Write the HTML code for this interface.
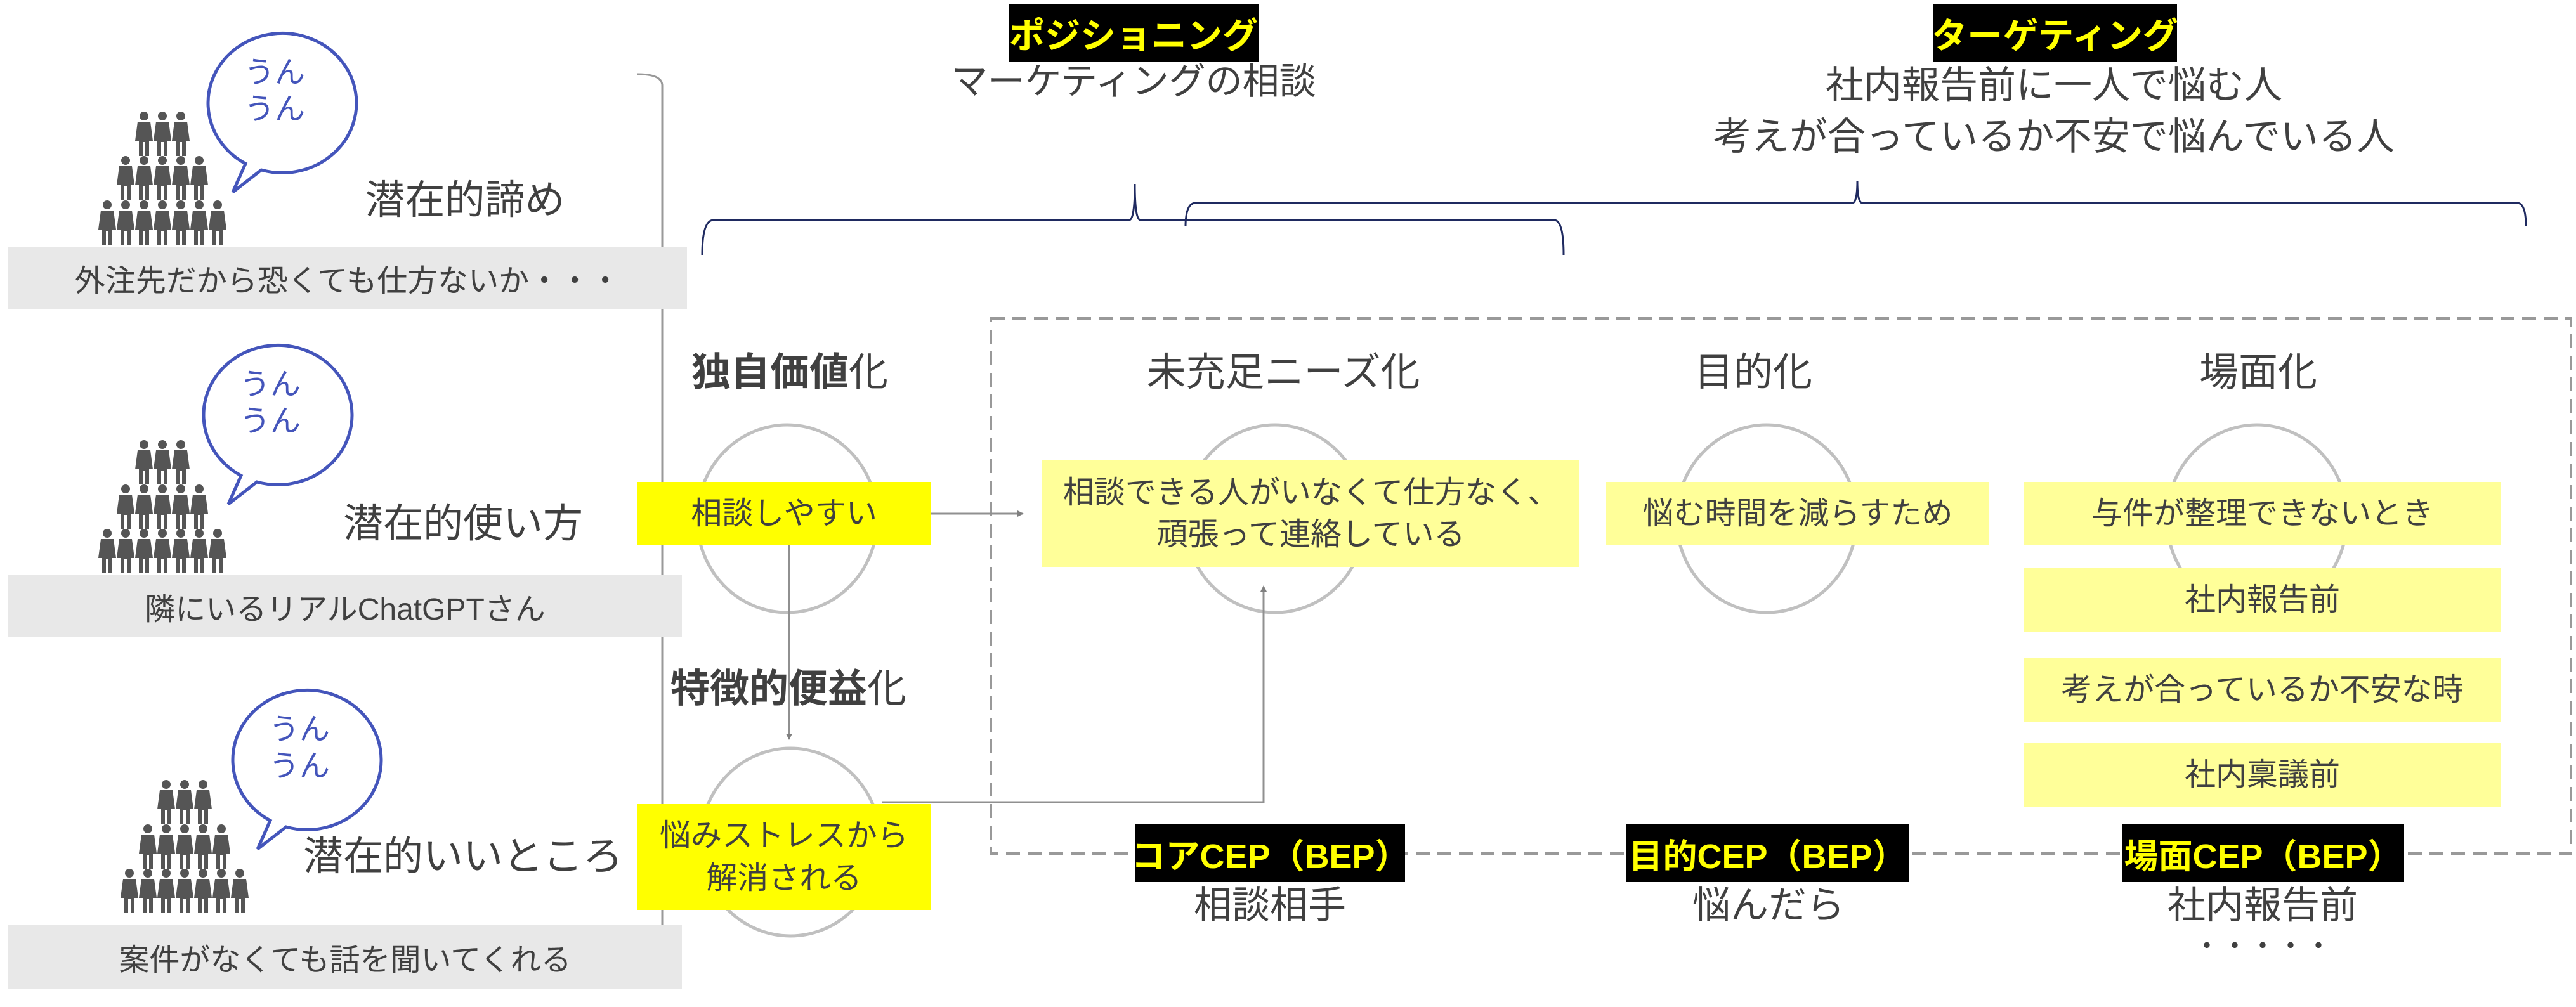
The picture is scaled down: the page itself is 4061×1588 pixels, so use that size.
<!DOCTYPE html>
<html><head><meta charset="utf-8"><style>
body{margin:0;width:4061px;height:1588px;background:#fff;position:relative;overflow:hidden;font-family:"Liberation Sans","Noto Sans CJK JP",sans-serif;color:#404040}
.t{position:absolute;white-space:nowrap;text-align:center;transform:translateX(-50%);line-height:1.15}
.bar{position:absolute;background:#e8e8e8;display:flex;align-items:center;justify-content:center;font-size:48px;white-space:nowrap}
.box{position:absolute;display:flex;align-items:center;justify-content:center;text-align:center;font-size:49px;line-height:1.35;white-space:nowrap}
.y1{background:#ffff00}.y2{background:#ffff99}
.cep{position:absolute;background:#000;color:#ffff00;font-weight:bold;font-size:54px;display:flex;align-items:center;justify-content:center;white-space:nowrap}
</style></head><body>
<svg width="4061" height="1588" style="position:absolute;left:0;top:0">
<defs>
<g id="p"><circle cx="0" cy="7" r="7" fill="#555"/><path d="M-10 16 H10 L14 46 H8 V70 H2 V48 H-2 V70 H-8 V46 H-14 Z" fill="#555"/></g>
<g id="crowd">
<use href="#p" x="-29" y="0"/><use href="#p" x="0" y="0"/><use href="#p" x="29" y="0"/>
<use href="#p" x="-58" y="70"/><use href="#p" x="-29" y="70"/><use href="#p" x="0" y="70"/><use href="#p" x="29" y="70"/><use href="#p" x="58" y="70"/>
<use href="#p" x="-87" y="140"/><use href="#p" x="-58" y="140"/><use href="#p" x="-29" y="140"/><use href="#p" x="0" y="140"/><use href="#p" x="29" y="140"/><use href="#p" x="58" y="140"/><use href="#p" x="87" y="140"/>
</g>
<g id="bub"><path d="M-40 90 L-60 135 L-15 100 A117 110 0 1 0 -40 90 Z" fill="#fff" stroke="#4455bb" stroke-width="5"/></g>
<marker id="ar" markerWidth="10" markerHeight="10" refX="8" refY="5" orient="auto" markerUnits="userSpaceOnUse" viewBox="0 0 10 10"><path d="M0 0 L10 5 L0 10Z" fill="#808080"/></marker>
</defs>
<use href="#crowd" x="256" y="176"/>
<use href="#crowd" x="256" y="694"/>
<use href="#crowd" x="291" y="1230"/>
<use href="#bub" x="427" y="168"/>
<use href="#bub" x="420" y="660"/>
<use href="#bub" x="466" y="1204"/>
<path d="M1005 117 Q1044 117 1044 135 V1490" fill="none" stroke="#999" stroke-width="3"/>
<path d="M1107 402 Q1107 347 1125 347 H1780 Q1789 347 1789 290 Q1789 347 1798 347 H2450 Q2465 347 2465 402" fill="none" stroke="#1f2a60" stroke-width="3"/>
<path d="M1869 357 Q1869 320 1885 320 H2920 Q2928 320 2928 285 Q2928 320 2936 320 H3968 Q3982 320 3982 357" fill="none" stroke="#1f2a60" stroke-width="3"/>
<rect x="1562" y="502" width="2491" height="844" fill="none" stroke="#999" stroke-width="4" stroke-dasharray="22 12"/>
<g fill="none" stroke="#c0c0c0" stroke-width="5">
<ellipse cx="1241" cy="818" rx="142" ry="148"/>
<ellipse cx="2010" cy="818" rx="142" ry="148"/>
<ellipse cx="2785" cy="818" rx="142" ry="148"/>
<ellipse cx="3558" cy="818" rx="142" ry="148"/>
<ellipse cx="1246" cy="1328" rx="142" ry="148"/>
</g>
<g stroke="#909090" stroke-width="3" fill="none">
<line x1="1467" y1="810" x2="1612" y2="810" marker-end="url(#ar)"/>
<line x1="1244" y1="860" x2="1244" y2="1165" marker-end="url(#ar)"/>
<polyline points="1391,1265 1992,1265 1992,925" marker-end="url(#ar)"/>
</g>
</svg>
<div class="t" style="left:433px;top:86px;font-size:48px;color:#4455bb;line-height:1.2">うん<br>うん</div>
<div class="t" style="left:426px;top:578px;font-size:48px;color:#4455bb;line-height:1.2">うん<br>うん</div>
<div class="t" style="left:472px;top:1122px;font-size:48px;color:#4455bb;line-height:1.2">うん<br>うん</div>
<div class="t" style="left:733px;top:280px;font-size:63px">潜在的諦め</div>
<div class="t" style="left:730px;top:790px;font-size:63px">潜在的使い方</div>
<div class="t" style="left:730px;top:1315px;font-size:63px">潜在的いいところ</div>
<div class="bar" style="left:13px;top:389px;width:1070px;height:98px">外注先だから恐くても仕方ないか・・・</div>
<div class="bar" style="left:13px;top:906px;width:1062px;height:99px">隣にいるリアルChatGPTさん</div>
<div class="bar" style="left:13px;top:1458px;width:1062px;height:101px">案件がなくても話を聞いてくれる</div>
<div class="cep" style="left:1590px;top:7px;width:394px;height:91px;font-size:56px">ポジショニング</div>
<div class="t" style="left:1787px;top:96px;font-size:58px">マーケティングの相談</div>
<div class="cep" style="left:3047px;top:7px;width:385px;height:91px;font-size:56px">ターゲティング</div>
<div class="t" style="left:3238px;top:94px;font-size:60px;line-height:1.35">社内報告前に一人で悩む人<br>考えが合っているか不安で悩んでいる人</div>
<div class="t" style="left:1245px;top:552px;font-size:62px"><b>独自価値</b>化</div>
<div class="t" style="left:2023px;top:552px;font-size:62px">未充足ニーズ化</div>
<div class="t" style="left:2764px;top:552px;font-size:62px">目的化</div>
<div class="t" style="left:3560px;top:552px;font-size:62px">場面化</div>
<div class="t" style="left:1243px;top:1051px;font-size:62px"><b>特徴的便益</b>化</div>
<div class="box y1" style="left:1005px;top:760px;width:462px;height:100px">相談しやすい</div>
<div class="box y2" style="left:1643px;top:726px;width:847px;height:168px">相談できる人がいなくて仕方なく、<br>頑張って連絡している</div>
<div class="box y1" style="left:1005px;top:1268px;width:462px;height:167px">悩みストレスから<br>解消される</div>
<div class="box y2" style="left:2532px;top:760px;width:604px;height:100px">悩む時間を減らすため</div>
<div class="box y2" style="left:3190px;top:760px;width:753px;height:100px">与件が整理できないとき</div>
<div class="box y2" style="left:3190px;top:896px;width:753px;height:100px">社内報告前</div>
<div class="box y2" style="left:3190px;top:1038px;width:753px;height:100px">考えが合っているか不安な時</div>
<div class="box y2" style="left:3190px;top:1172px;width:753px;height:100px">社内稟議前</div>
<div class="cep" style="left:1790px;top:1300px;width:425px;height:91px">コアCEP（BEP）</div>
<div class="cep" style="left:2563px;top:1300px;width:447px;height:91px">目的CEP（BEP）</div>
<div class="cep" style="left:3345px;top:1300px;width:445px;height:91px">場面CEP（BEP）</div>
<div class="t" style="left:2002px;top:1393px;font-size:60px">相談相手</div>
<div class="t" style="left:2788px;top:1393px;font-size:60px">悩んだら</div>
<div class="t" style="left:3567px;top:1393px;font-size:60px">社内報告前</div>
<div class="t" style="left:3567px;top:1468px;font-size:44px">・・・・・</div>
</body></html>
